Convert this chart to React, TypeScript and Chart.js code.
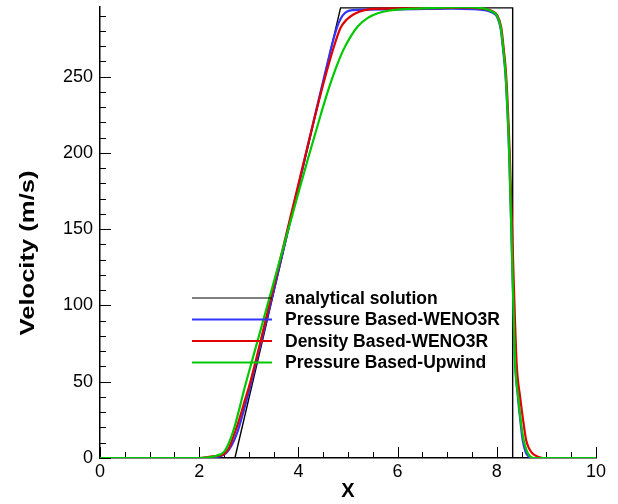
import React, { useEffect, useRef } from "react";
import { Chart, registerables } from "chart.js";

Chart.register(...registerables);

// ---- data ----
const seriesLabels = [
  "analytical solution",
  "Pressure Based-WENO3R",
  "Density Based-WENO3R",
  "Pressure Based-Upwind",
];
const seriesColors = ["#000000", "#3333ff", "#e00000", "#00c800"];

const analyticalX = [0, 2.72, 4.85, 8.32, 8.32, 10];
const analyticalY = [0, 0, 295, 295, 0, 0];

const pressureWenoX = [0, 2.1, 2.3, 2.45, 2.55, 2.65, 2.77, 2.88, 2.98, 3.06, 3.46, 3.94, 4.41, 4.61, 4.72, 4.81, 4.89, 4.99, 5.1, 5.4, 6.0, 6.6, 7.1, 7.5, 7.75, 7.88, 8.0, 8.08, 8.13, 8.18, 8.25, 8.32, 8.37, 8.42, 8.47, 8.52, 8.58, 8.64, 8.72, 10];
const pressureWenoY = [0, 0, 0.4, 1.5, 3.5, 8, 17, 29, 41, 51, 104, 170, 235, 262, 276, 285, 290, 292.8, 293.6, 293.9, 294, 294.3, 294.5, 294.2, 293.5, 292.3, 289.5, 281, 267, 249, 199, 117, 62, 42, 26, 12, 4, 1, 0, 0];

const densityWenoX = [0, 2.0, 2.2, 2.4, 2.5, 2.6, 2.7, 2.8, 2.9, 3.04, 3.44, 3.93, 4.42, 4.61, 4.74, 4.85, 4.97, 5.1, 5.24, 5.45, 5.7, 6.2, 6.8, 7.3, 7.6, 7.78, 7.9, 8.01, 8.09, 8.14, 8.19, 8.26, 8.34, 8.4, 8.47, 8.53, 8.59, 8.64, 8.72, 8.82, 8.93, 10];
const densityWenoY = [0, 0, 0.8, 1.5, 2.5, 6.5, 15, 24.5, 35.5, 51, 104, 170, 235, 258, 272, 282, 287.2, 290.5, 292.7, 294.2, 294.6, 294.7, 294.9, 295.1, 294.9, 294.2, 293, 290, 282, 268, 250, 200, 117, 62, 40, 25, 12, 7, 3, 1, 0, 0];

const pressureUpwindX = [0, 2.0, 2.2, 2.35, 2.5, 2.6, 2.7, 2.8, 2.9, 3.0, 3.2, 3.4, 3.9, 4.2, 4.45, 4.6, 4.75, 4.9, 5.05, 5.2, 5.4, 5.6, 5.84, 6.18, 6.6, 7.0, 7.3, 7.6, 7.75, 7.88, 8.0, 8.08, 8.13, 8.18, 8.25, 8.32, 8.37, 8.43, 8.48, 8.54, 8.6, 8.66, 8.75, 10];
const pressureUpwindY = [0, 0, 0.5, 1.5, 4, 10, 19, 31, 44, 56, 79.5, 103, 162, 197, 225, 241, 255, 267, 276, 283, 288.5, 291.5, 293.3, 294.3, 294.8, 295.3, 295.5, 295.2, 294.5, 293, 290, 282, 268, 250, 200, 117, 62, 40, 25, 12, 5, 1.5, 0, 0];

const xTickStep = 2;
const xMinorStep = 0.5;
const yTickStep = 50;
const yMinorStep = 10;
const xMin = 0;
const xMax = 10;
const yMin = 0;
const yMax = 295.6;

const xTitle = "X";
const yTitle = "Velocity (m/s)";

const FONT = "'Liberation Sans', Arial, Helvetica, sans-serif";

function toPoints(xs: number[], ys: number[]) {
  return xs.map((x, i) => ({ x, y: ys[i] }));
}

const decorPlugin = {
  id: "decor",
  beforeDatasetsDraw(chart: any) {
    const ctx = chart.ctx;
    const xs = chart.scales.x;
    const ys = chart.scales.y;
    const area = chart.chartArea;
    ctx.save();
    ctx.strokeStyle = "#000";
    ctx.lineWidth = 1;
    for (let v = xMin; v <= xMax + 1e-9; v += xMinorStep) {
      const major = Math.abs(v / xTickStep - Math.round(v / xTickStep)) < 1e-6;
      const px = Math.round(xs.getPixelForValue(v)) + 0.5;
      ctx.beginPath();
      ctx.moveTo(px, area.bottom);
      ctx.lineTo(px, area.bottom - (major ? 11 : 6));
      ctx.stroke();
    }
    for (let v = yMin; v <= yMax + 1e-9; v += yMinorStep) {
      const major = Math.abs(v / yTickStep - Math.round(v / yTickStep)) < 1e-6;
      const py = Math.round(ys.getPixelForValue(v)) + 0.5;
      ctx.beginPath();
      ctx.moveTo(area.left, py);
      ctx.lineTo(area.left + (major ? 11 : 6), py);
      ctx.stroke();
    }
    ctx.restore();
  },
  afterDraw(chart: any) {
    const ctx = chart.ctx;
    ctx.save();
    ctx.fillStyle = "#000";
    ctx.textAlign = "center";
    ctx.textBaseline = "middle";
    ctx.font = `bold 20px ${FONT}`;
    ctx.fillText(xTitle, 348, 491);
    ctx.save();
    ctx.font = `bold 21px ${FONT}`;
    ctx.translate(28, 253);
    ctx.rotate(-Math.PI / 2);
    const w = ctx.measureText(yTitle).width;
    ctx.scale(165 / w, 1);
    ctx.fillText(yTitle, 0, 0);
    ctx.restore();
    const rows = [298, 319.5, 341, 362.5];
    ctx.font = `bold 17.5px ${FONT}`;
    ctx.textAlign = "left";
    chart.data.datasets.forEach((ds: any, i: number) => {
      const y = rows[i];
      ctx.strokeStyle = ds.borderColor;
      ctx.lineWidth = i === 0 ? 1 : 2.2;
      ctx.beginPath();
      ctx.moveTo(192, y);
      ctx.lineTo(272, y);
      ctx.stroke();
      ctx.fillStyle = "#000";
      ctx.fillText(ds.label, 285, y + 1);
    });
    ctx.restore();
  },
};

export default function App() {
  const ref = useRef<HTMLCanvasElement | null>(null);
  useEffect(() => {
    if (!ref.current) return;
    const xsList = [analyticalX, pressureWenoX, densityWenoX, pressureUpwindX];
    const ysList = [analyticalY, pressureWenoY, densityWenoY, pressureUpwindY];
    const chart = new Chart(ref.current, {
      type: "line",
      data: {
        datasets: seriesLabels.map((label, i) => ({
          label,
          data: toPoints(xsList[i], ysList[i]),
          borderColor: seriesColors[i],
          backgroundColor: seriesColors[i],
          borderWidth: i === 0 ? 1.4 : 2.2,
          pointRadius: 0,
          fill: false,
          tension: 0,
          cubicInterpolationMode: i === 0 ? "default" : "monotone",
          order: 3 - i,
        })),
      },
      options: {
        animation: false,
        responsive: false,
        devicePixelRatio: 1,
        layout: { padding: { top: 7, right: 22, left: 0, bottom: 0 } },
        plugins: { legend: { display: false }, tooltip: { enabled: false } },
        scales: {
          x: {
            type: "linear",
            min: xMin,
            max: xMax,
            grid: { display: false, drawTicks: false },
            border: { display: true, color: "#000", width: 1.5 },
            ticks: {
              stepSize: xTickStep,
              includeBounds: false,
              autoSkip: false,
              maxRotation: 0,
              padding: 3,
              color: "#000",
              font: { family: FONT, size: 18 },
            },
            afterFit(scale: any) {
              scale.height = 46;
              scale.paddingLeft = 0;
              scale.paddingRight = 0;
            },
          },
          y: {
            type: "linear",
            min: yMin,
            max: yMax,
            grid: { display: false, drawTicks: false },
            border: { display: true, color: "#000", width: 1.5 },
            ticks: {
              stepSize: yTickStep,
              includeBounds: false,
              autoSkip: false,
              padding: 7,
              color: "#000",
              font: { family: FONT, size: 18 },
            },
            afterFit(scale: any) {
              scale.width = 100;
              scale.paddingTop = 0;
              scale.paddingBottom = 0;
            },
          },
        },
      },
      plugins: [decorPlugin],
    });
    return () => chart.destroy();
  }, []);
  return (
    <div style={{ position: "absolute", left: 0, top: 0, width: 618, height: 504, background: "#fff" }}>
      <canvas ref={ref} width={618} height={504} style={{ display: "block" }} />
    </div>
  );
}
